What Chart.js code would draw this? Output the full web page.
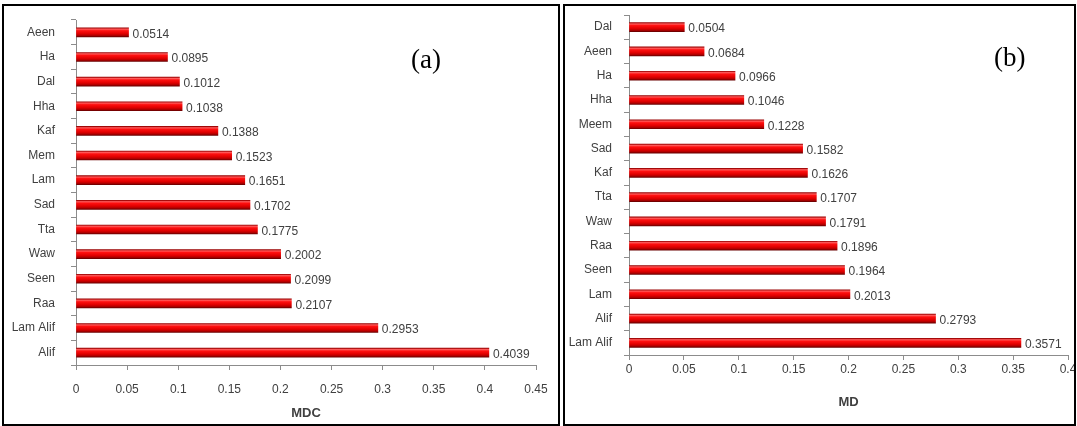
<!DOCTYPE html>
<html><head><meta charset="utf-8">
<script src="https://cdn.jsdelivr.net/npm/chart.js@4.4.0/dist/chart.umd.min.js"></script>
<style>
html,body{margin:0;padding:0;background:#fff;width:1077px;height:426px;overflow:hidden;}
.panel{position:absolute;border:2px solid #000;box-sizing:border-box;background:#fff;}
#pa{left:2px;top:4px;width:558px;height:422px;}
#pb{left:563px;top:4px;width:513px;height:422px;}
.panel canvas{position:absolute;left:0;top:0;}
.tag{position:absolute;font-family:"Liberation Serif","Times New Roman",serif;font-size:27px;color:#000;line-height:27px;}
</style></head><body>
<div class="panel" id="pa"><canvas id="ca" width="554" height="418"></canvas></div>
<div class="panel" id="pb"><canvas id="cb" width="509" height="418"></canvas></div>
<div class="tag" style="left:411px;top:46px;">(a)</div>
<div class="tag" style="left:994px;top:44px;">(b)</div>
<script>
// ---- data ----
const categoriesA = ['Aeen','Ha','Dal','Hha','Kaf','Mem','Lam','Sad','Tta','Waw','Seen','Raa','Lam Alif','Alif'];
const valuesA = [0.0514,0.0895,0.1012,0.1038,0.1388,0.1523,0.1651,0.1702,0.1775,0.2002,0.2099,0.2107,0.2953,0.4039];
const ticksA = ['0','0.05','0.1','0.15','0.2','0.25','0.3','0.35','0.4','0.45'];
const titleA = 'MDC';

const categoriesB = ['Dal','Aeen','Ha','Hha','Meem','Sad','Kaf','Tta','Waw','Raa','Seen','Lam','Alif','Lam Alif'];
const valuesB = [0.0504,0.0684,0.0966,0.1046,0.1228,0.1582,0.1626,0.1707,0.1791,0.1896,0.1964,0.2013,0.2793,0.3571];
const ticksB = ['0','0.05','0.1','0.15','0.2','0.25','0.3','0.35','0.4'];
const titleB = 'MD';

const FONT = '"Liberation Sans", Arial, sans-serif';
const BAR_T = 9;

const cylinderBars = {
  id: 'cylinderBars',
  beforeDatasetsDraw(chart) {
    const ctx = chart.ctx;
    chart.getDatasetMeta(0).data.forEach(el => {
      const h = BAR_T / 2;
      if (!isFinite(el.y)) return;
      const g = ctx.createLinearGradient(0, el.y - h, 0, el.y + h);
      g.addColorStop(0, '#9a0000');
      g.addColorStop(0.15, '#ff5a5a');
      g.addColorStop(0.32, '#ff1010');
      g.addColorStop(0.65, '#e00000');
      g.addColorStop(0.85, '#b00000');
      g.addColorStop(1, '#6a0000');
      el.options = Object.assign({}, el.options, { backgroundColor: g });
    });
  }
};

const valueLabels = {
  id: 'valueLabels',
  afterDatasetsDraw(chart) {
    const ctx = chart.ctx;
    const meta = chart.getDatasetMeta(0);
    const data = chart.data.datasets[0].data;
    ctx.save();
    ctx.font = '12px ' + FONT;
    ctx.fillStyle = '#404040';
    ctx.textAlign = 'left';
    ctx.textBaseline = 'middle';
    meta.data.forEach((el, i) => {
      ctx.fillText(data[i].toFixed(4), el.x + 4, el.y + 2);
    });
    ctx.restore();
  }
};

function makeChart(id, cats, vals, ticks, title, cfg) {
  new Chart(document.getElementById(id), {
    type: 'bar',
    data: { labels: cats, datasets: [{ data: vals, backgroundColor: () => '#e00000', borderWidth: 0, barThickness: BAR_T }] },
    options: {
      indexAxis: 'y', responsive: false, animation: false,
      layout: { padding: { left: 0, right: cfg.padR, top: cfg.padT, bottom: 0 } },
      plugins: { legend: { display: false }, tooltip: { enabled: false } },
      scales: {
        x: {
          min: 0, max: cfg.max,
          ticks: { stepSize: 0.05, color: '#404040', font: { family: FONT, size: 12 }, padding: cfg.xTickPad,
                   maxRotation: 0, autoSkip: false, callback: (v, i) => ticks[i] },
          grid: { drawOnChartArea: false, drawTicks: true, tickLength: 5, color: '#8c8c8c' },
          border: { display: true, color: '#8c8c8c' },
          title: { display: true, text: title, color: '#404040', font: { family: FONT, size: 13, weight: 'bold' },
                   padding: { top: 0, bottom: cfg.titlePadB } },
          afterFit(s) { s.height = cfg.xH; s.paddingLeft = 0; s.paddingRight = 0; }
        },
        y: {
          ticks: { color: '#404040', font: { family: FONT, size: 12 }, padding: cfg.yTickPad, autoSkip: false },
          grid: { drawOnChartArea: false, drawTicks: true, tickLength: 5, color: '#8c8c8c', offset: true },
          border: { display: true, color: '#8c8c8c' },
          afterFit(s) { s.width = cfg.yW; s.paddingTop = 0; s.paddingBottom = 0; }
        }
      }
    },
    plugins: [cylinderBars, valueLabels]
  });
}

makeChart('ca', categoriesA, valuesA, ticksA, titleA,
  { max: 0.45, padR: 22, padT: 14, xH: 59, yW: 72, xTickPad: 12, titlePadB: 3, yTickPad: 16 });
makeChart('cb', categoriesB, valuesB, ticksB, titleB,
  { max: 0.4, padR: 6, padT: 9, xH: 69, yW: 64, xTickPad: 2, titlePadB: 14, yTickPad: 12 });
</script>
</body></html>
